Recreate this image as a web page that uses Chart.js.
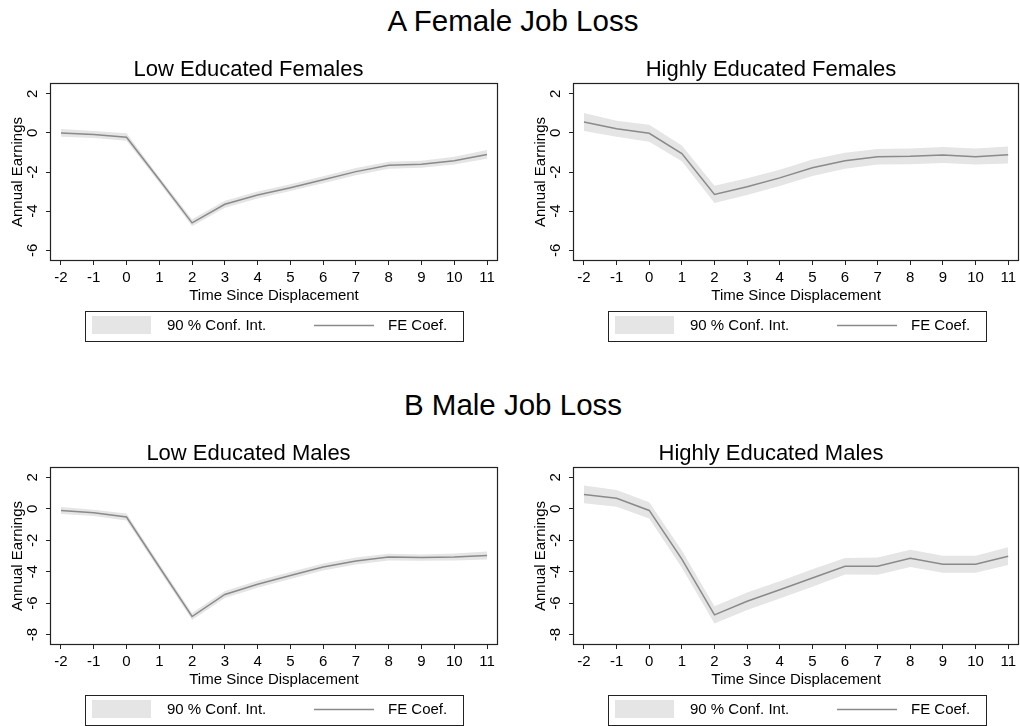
<!DOCTYPE html>
<html>
<head>
<meta charset="utf-8">
<script src="https://cdn.jsdelivr.net/npm/chart.js@4.4.1/dist/chart.umd.min.js"></script>
<style>
  html, body { margin: 0; padding: 0; background: #fff; overflow: hidden; }
  body { width: 1020px; height: 726px; position: relative; font-family: "Liberation Sans", Arial, sans-serif; }
  .hdr { position: absolute; left: 3px; width: 1020px; text-align: center; font-size: 29.5px; line-height: 29px; color: #000; }
  canvas { position: absolute; }
</style>
</head>
<body>
<div class="hdr" style="top:6px">A Female Job Loss</div>
<div class="hdr" style="top:390px">B Male Job Loss</div>
<canvas id="lowFem" width="510" height="295" style="left:0;top:50px"></canvas>
<canvas id="highFem" width="497" height="295" style="left:523px;top:50px"></canvas>
<canvas id="lowMale" width="510" height="295" style="left:0;top:434px"></canvas>
<canvas id="highMale" width="497" height="295" style="left:523px;top:434px"></canvas>
<script>
// Years relative to displacement
const years = [-2, -1, 0, 1, 2, 3, 4, 5, 6, 7, 8, 9, 10, 11];
const femaleYTicks = [-6, -4, -2, 0, 2];
const maleYTicks = [-8, -6, -4, -2, 0, 2];

// Low educated females
const lowFemCoef  = [0.00, -0.08, -0.22, -2.40, -4.60, -3.65, -3.18, -2.80, -2.40, -1.98, -1.66, -1.60, -1.42, -1.10];
const lowFemUpper = [0.20,  0.10, -0.02, -2.25, -4.42, -3.47, -3.00, -2.63, -2.22, -1.80, -1.48, -1.42, -1.22, -0.88];
const lowFemLower = [-0.20, -0.26, -0.40, -2.55, -4.78, -3.83, -3.36, -2.97, -2.58, -2.16, -1.84, -1.78, -1.62, -1.32];

// Highly educated females
const highFemCoef  = [0.56, 0.21, -0.02, -1.06, -3.15, -2.75, -2.30, -1.78, -1.43, -1.22, -1.20, -1.13, -1.22, -1.12];
const highFemUpper = [1.02, 0.62,  0.41, -0.65, -2.70, -2.32, -1.88, -1.36, -1.02, -0.82, -0.80, -0.72, -0.80, -0.70];
const highFemLower = [0.10, -0.20, -0.45, -1.45, -3.58, -3.17, -2.72, -2.20, -1.84, -1.62, -1.60, -1.54, -1.62, -1.56];

// Low educated males
const lowMaleCoef  = [-0.10, -0.25, -0.52, -3.70, -6.85, -5.45, -4.80, -4.24, -3.70, -3.32, -3.07, -3.10, -3.06, -2.97];
const lowMaleUpper = [0.12, -0.05, -0.30, -3.50, -6.62, -5.22, -4.58, -4.02, -3.48, -3.10, -2.86, -2.90, -2.84, -2.72];
const lowMaleLower = [-0.32, -0.45, -0.74, -3.90, -7.08, -5.68, -5.02, -4.46, -3.92, -3.54, -3.28, -3.30, -3.28, -3.22];

// Highly educated males
const highMaleCoef  = [0.92, 0.67, -0.10, -3.20, -6.75, -5.88, -5.15, -4.40, -3.65, -3.65, -3.15, -3.52, -3.52, -3.02];
const highMaleUpper = [1.48, 1.20,  0.42, -2.65, -6.20, -5.32, -4.60, -3.85, -3.12, -3.10, -2.60, -2.98, -2.98, -2.45];
const highMaleLower = [0.36, 0.14, -0.62, -3.75, -7.30, -6.44, -5.70, -4.95, -4.18, -4.20, -3.70, -4.06, -4.06, -3.58];

const FONT = '"Liberation Sans", Arial, sans-serif';
const BAND = '#e5e5e5';
const LINE = '#8a8a8a';
const INK = '#222';

// Box around the plot area
const frame = {
  id: 'frame',
  afterDatasetsDraw(chart) {
    const { ctx, chartArea: a } = chart;
    ctx.save();
    ctx.strokeStyle = INK;
    ctx.lineWidth = 1.2;
    ctx.strokeRect(Math.round(a.left) - 0.5, Math.round(a.top) - 0.5,
                   Math.round(a.right - a.left) + 1, Math.round(a.bottom - a.top) + 1);
    ctx.restore();
  }
};

// Boxed legend under the axis title
const legendBox = {
  id: 'legendBox',
  afterDraw(chart) {
    const { ctx, chartArea: a } = chart;
    const ds = chart.data.datasets;
    const L = Math.round(a.left), B = Math.round(a.bottom);
    ctx.save();
    ctx.strokeStyle = INK;
    ctx.lineWidth = 1;
    ctx.strokeRect(L + 34.5, B + 51.5, 378, 30);
    ctx.fillStyle = ds[1].backgroundColor;
    ctx.fillRect(L + 41, B + 56, 59, 18);
    ctx.strokeStyle = ds[2].borderColor;
    ctx.lineWidth = ds[2].borderWidth;
    ctx.beginPath();
    ctx.moveTo(L + 263, B + 65.5);
    ctx.lineTo(L + 323, B + 65.5);
    ctx.stroke();
    ctx.fillStyle = '#000';
    ctx.font = '15px ' + FONT;
    ctx.textBaseline = 'middle';
    ctx.textAlign = 'left';
    ctx.fillText(ds[1].label, L + 116, B + 66);
    ctx.fillText(ds[2].label, L + 337, B + 66);
    ctx.restore();
  }
};

function panel(id, title, coef, lower, upper, yTicks, yMin, yMax, padRight) {
  const pts = arr => years.map((x, i) => ({ x, y: arr[i] }));
  const tickGrid = { display: true, drawOnChartArea: false, drawTicks: true, tickLength: 5, color: INK, lineWidth: 1 };
  new Chart(document.getElementById(id), {
    type: 'line',
    data: {
      datasets: [
        { label: 'lower', data: pts(lower), borderWidth: 0, borderColor: 'rgba(0,0,0,0)', pointRadius: 0,
          fill: false, order: 2 },
        { label: '90 % Conf. Int.', data: pts(upper), borderWidth: 0, borderColor: 'rgba(0,0,0,0)', pointRadius: 0,
          fill: '-1', backgroundColor: BAND, order: 1 },
        { label: 'FE Coef.', data: pts(coef), borderColor: LINE, borderWidth: 1.5, pointRadius: 0,
          fill: false, tension: 0, order: 0 }
      ]
    },
    options: {
      responsive: false,
      animation: false,
      devicePixelRatio: 1,
      layout: { padding: { top: 0, left: 0, right: padRight, bottom: 40 } },
      plugins: {
        legend: { display: false },
        tooltip: { enabled: false },
        title: {
          display: true, text: title, color: '#000',
          font: { family: FONT, size: 22, weight: 'normal', lineHeight: 1.2 },
          padding: { top: 6.5, bottom: 1.1 }
        }
      },
      scales: {
        x: {
          type: 'linear', min: -2.305, max: 11.305,
          afterBuildTicks: s => { s.ticks = years.map(v => ({ value: v })); },
          afterFit: s => { s.height = 45; },
          grid: tickGrid,
          border: { display: false },
          ticks: { font: { family: FONT, size: 15 }, color: '#000', padding: 4, maxRotation: 0, autoSkip: false },
          title: { display: true, text: 'Time Since Displacement', color: '#000',
                   font: { family: FONT, size: 15 }, padding: 0 }
        },
        y: {
          type: 'linear', min: yMin, max: yMax,
          afterBuildTicks: s => { s.ticks = yTicks.map(v => ({ value: v })); },
          afterFit: s => { s.width = 51; },
          grid: tickGrid,
          border: { display: false },
          ticks: { font: { family: FONT, size: 15 }, color: '#000', padding: 6,
                   minRotation: 90, maxRotation: 90, crossAlign: 'center' },
          title: { display: true, text: 'Annual Earnings', color: '#000',
                   font: { family: FONT, size: 15 }, padding: { top: 9, bottom: 0 } }
        }
      }
    },
    plugins: [frame, legendBox]
  });
}

panel('lowFem', 'Low Educated Females', lowFemCoef, lowFemLower, lowFemUpper, femaleYTicks, -6.5, 2.5, 13);
panel('highFem', 'Highly Educated Females', highFemCoef, highFemLower, highFemUpper, femaleYTicks, -6.5, 2.5, 1);
panel('lowMale', 'Low Educated Males', lowMaleCoef, lowMaleLower, lowMaleUpper, maleYTicks, -8.6, 2.6, 13);
panel('highMale', 'Highly Educated Males', highMaleCoef, highMaleLower, highMaleUpper, maleYTicks, -8.6, 2.6, 1);
</script>
</body>
</html>
